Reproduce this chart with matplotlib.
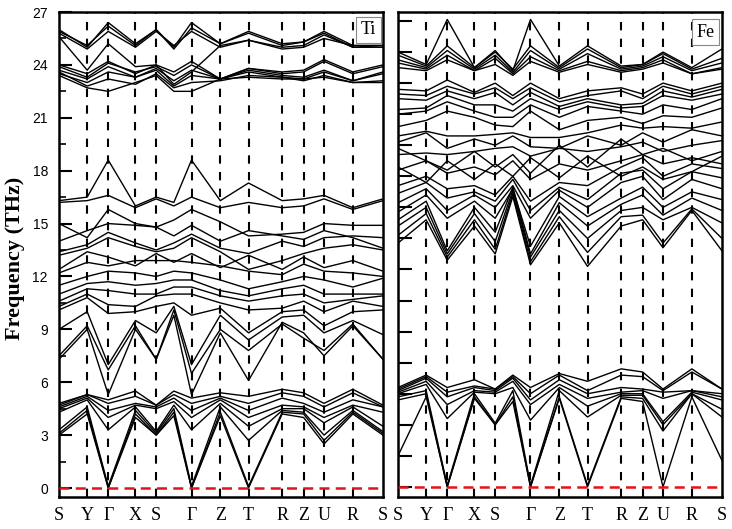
import matplotlib
matplotlib.use('Agg')
import matplotlib.pyplot as plt
from matplotlib.ticker import MultipleLocator

# k-path (high-symmetry points) shared by both panels
k_labels = ['S', 'Y', 'Γ', 'X', 'S', 'Γ', 'Z', 'T', 'R', 'Z', 'U', 'R', 'S']
k_ticks = [0.0, 0.087, 0.152, 0.236, 0.300, 0.409, 0.498, 0.585, 0.689, 0.755, 0.818, 0.907, 1.0]
# sampled points: high-symmetry points + middle of the S-Γ segment
k_points = [0.0, 0.087, 0.152, 0.236, 0.300, 0.3545, 0.409, 0.498, 0.585, 0.689, 0.755, 0.818, 0.907, 1.0]

# ---- Ti panel (THz) ----
ti_low = [
    [3.0, 4.2, 0.0, 4.0, 3.0, 4.1, 0.0, 4.1, 0.0, 4.2, 4.0, 2.5, 4.2, 3.0],
    [3.1, 4.4, 0.0, 4.2, 3.0, 4.3, 0.0, 4.3, 0.1, 4.3, 4.2, 2.7, 4.3, 3.1],
    [3.3, 4.6, 0.1, 4.4, 3.1, 4.5, 0.1, 4.6, 2.7, 4.4, 4.3, 3.0, 4.4, 3.2],
    [4.3, 5.0, 3.3, 4.6, 3.2, 4.7, 3.3, 4.8, 3.5, 4.5, 4.5, 3.7, 4.6, 3.5],
    [4.5, 5.1, 4.0, 4.7, 4.5, 4.9, 4.0, 5.0, 4.0, 4.7, 4.6, 4.0, 4.7, 4.3],
    [4.6, 5.2, 4.4, 4.8, 4.6, 5.1, 4.4, 5.1, 4.4, 5.1, 4.8, 4.3, 5.0, 4.6],
    [4.7, 5.3, 4.8, 5.2, 4.7, 5.3, 4.8, 5.2, 4.8, 5.4, 5.2, 4.6, 5.4, 4.6],
    [4.8, 5.3, 5.0, 5.5, 4.7, 5.5, 5.1, 5.4, 5.2, 5.6, 5.4, 4.8, 5.6, 4.7],
]
ti_mid = [
    [16.3, 16.5, 18.6, 16.0, 16.5, 16.2, 18.6, 16.3, 17.3, 16.3, 16.4, 16.6, 15.9, 16.4],
    [16.2, 16.3, 16.6, 15.9, 16.4, 16.0, 16.5, 15.9, 16.2, 15.9, 16.0, 16.4, 15.8, 16.3],
    [15.0, 14.2, 15.8, 15.0, 14.8, 15.2, 15.8, 15.1, 14.3, 14.4, 14.5, 15.0, 14.9, 14.9],
    [14.0, 14.6, 15.0, 14.9, 14.8, 14.3, 14.9, 14.0, 14.6, 14.3, 14.1, 14.6, 14.2, 13.6],
    [13.4, 13.8, 14.5, 13.9, 13.5, 13.9, 14.4, 13.6, 13.3, 14.0, 13.7, 14.2, 14.3, 14.2],
    [13.2, 13.6, 14.2, 13.7, 13.4, 13.6, 14.2, 13.4, 12.4, 12.9, 13.3, 13.6, 13.8, 13.5],
    [12.4, 13.4, 13.1, 12.6, 13.3, 12.8, 13.3, 12.5, 13.2, 12.4, 13.1, 12.5, 12.9, 12.3],
    [12.2, 12.8, 12.6, 12.9, 12.9, 12.9, 12.8, 12.6, 12.3, 12.1, 12.7, 12.3, 12.2, 12.0],
    [11.5, 12.0, 12.3, 12.2, 12.0, 12.3, 12.2, 11.8, 11.3, 11.7, 12.0, 11.8, 11.4, 11.9],
    [11.0, 11.6, 11.7, 11.5, 11.6, 11.8, 11.8, 11.2, 10.9, 11.3, 11.5, 11.0, 11.0, 11.0],
    [10.6, 11.3, 11.2, 11.0, 11.0, 11.4, 11.4, 10.9, 10.6, 10.9, 11.0, 10.5, 10.7, 10.9],
    [10.3, 11.0, 10.4, 10.3, 10.9, 11.0, 11.0, 10.5, 10.1, 10.2, 10.6, 10.0, 10.6, 10.3],
    [10.1, 10.8, 9.9, 10.0, 10.3, 10.5, 9.8, 10.2, 8.8, 10.0, 10.1, 9.2, 10.0, 10.1],
    [9.0, 10.0, 7.0, 9.5, 8.8, 10.3, 7.0, 9.8, 8.4, 9.7, 9.8, 8.8, 9.5, 8.7],
    [7.5, 9.2, 6.7, 9.2, 7.3, 10.1, 6.5, 9.0, 7.8, 9.3, 8.5, 7.8, 9.3, 7.3],
    [7.3, 9.0, 5.3, 9.0, 7.3, 9.8, 5.3, 8.8, 6.1, 9.4, 8.8, 7.5, 9.2, 7.3],
]
ti_top = [
    [26.0, 25.0, 26.4, 25.2, 26.0, 25.0, 26.4, 25.2, 25.9, 25.2, 25.3, 25.9, 25.1, 25.1],
    [25.9, 25.1, 26.2, 25.1, 26.0, 24.9, 26.1, 25.2, 25.8, 25.1, 25.3, 25.8, 25.0, 25.1],
    [25.8, 24.9, 25.9, 25.0, 25.9, 25.1, 25.9, 25.0, 25.4, 25.0, 25.1, 25.7, 25.0, 25.0],
    [25.6, 23.7, 25.2, 23.9, 24.0, 22.9, 23.6, 25.1, 25.4, 24.9, 25.0, 25.5, 25.1, 25.1],
    [24.0, 23.5, 24.2, 23.5, 24.0, 23.6, 24.2, 23.2, 23.8, 23.6, 23.7, 24.3, 23.6, 24.0],
    [23.9, 23.3, 24.1, 23.6, 23.9, 23.4, 24.0, 23.2, 23.8, 23.5, 23.6, 24.2, 23.5, 23.9],
    [23.7, 23.2, 23.9, 23.3, 23.8, 23.1, 23.7, 23.2, 23.7, 23.4, 23.3, 23.7, 23.1, 23.6],
    [23.5, 23.0, 23.6, 23.3, 23.7, 22.8, 23.4, 23.2, 23.6, 23.3, 23.2, 23.6, 23.1, 23.5],
    [23.6, 22.8, 23.2, 22.9, 23.5, 22.7, 23.0, 23.1, 23.4, 23.3, 23.1, 23.4, 23.0, 23.1],
    [23.4, 22.7, 22.5, 23.0, 23.4, 22.5, 22.5, 23.2, 23.3, 23.2, 23.2, 23.3, 23.0, 23.0],
]

# ---- Fe panel (own axis scale) ----
fe_low = [
    [2.0, 5.8, 0.0, 5.7, 4.0, 5.5, 0.0, 5.7, 0.0, 5.7, 5.5, 0.0, 5.8, 1.7],
    [5.6, 6.0, 0.0, 5.8, 4.0, 5.8, 0.0, 5.8, 0.1, 5.8, 5.7, 3.6, 6.0, 4.5],
    [5.8, 6.2, 0.1, 6.0, 4.1, 6.2, 0.1, 6.2, 4.5, 5.9, 5.9, 4.0, 6.0, 5.0],
    [6.0, 6.6, 4.4, 6.1, 6.0, 6.4, 4.3, 6.4, 5.2, 6.0, 6.0, 4.2, 6.1, 5.6],
    [6.1, 6.8, 5.3, 6.2, 6.1, 6.8, 5.3, 6.6, 5.7, 6.1, 6.2, 5.7, 6.2, 5.8],
    [6.2, 7.0, 5.8, 6.4, 6.2, 7.0, 5.6, 6.9, 6.0, 6.4, 6.3, 6.1, 6.2, 6.0],
    [6.3, 7.1, 6.1, 6.5, 6.3, 7.1, 6.0, 7.2, 6.2, 7.2, 7.1, 6.2, 7.4, 6.3],
    [6.4, 7.2, 6.4, 6.9, 6.3, 7.2, 6.4, 7.3, 6.8, 7.6, 7.4, 6.3, 7.6, 6.3],
]
fe_mid = [
    [15.7, 17.2, 14.6, 16.8, 15.0, 18.7, 14.3, 17.0, 14.2, 16.8, 17.2, 15.4, 17.8, 15.2],
    [16.2, 17.6, 14.8, 17.2, 15.3, 18.9, 14.5, 17.4, 15.1, 17.4, 17.5, 15.7, 17.9, 16.0],
    [16.8, 18.0, 15.0, 17.6, 15.8, 19.1, 14.8, 17.8, 16.0, 17.8, 18.0, 17.2, 18.0, 17.0],
    [17.2, 18.4, 15.2, 18.0, 16.4, 19.3, 15.0, 18.3, 16.8, 18.2, 18.8, 17.5, 18.6, 17.8],
    [17.7, 18.8, 17.3, 18.4, 17.3, 19.2, 15.5, 18.7, 17.4, 18.6, 19.3, 18.0, 19.0, 18.5],
    [18.3, 19.2, 17.8, 18.8, 18.0, 19.4, 17.3, 19.1, 18.0, 19.6, 20.0, 18.5, 19.8, 19.2],
    [18.9, 19.6, 18.6, 19.0, 18.4, 19.8, 17.8, 19.3, 18.5, 20.2, 20.4, 19.2, 20.3, 19.9],
    [19.4, 20.0, 19.2, 19.4, 18.8, 20.0, 18.4, 19.6, 19.4, 20.6, 21.2, 20.0, 20.8, 20.5],
    [20.6, 19.6, 21.0, 19.8, 20.8, 20.0, 21.2, 19.9, 21.3, 20.0, 20.6, 19.8, 20.3, 21.3],
    [20.4, 21.0, 20.2, 20.6, 20.1, 21.0, 19.8, 20.8, 20.4, 21.0, 21.4, 20.8, 21.2, 20.8],
    [21.8, 21.0, 20.4, 21.6, 20.6, 21.4, 20.2, 22.0, 20.6, 22.4, 21.4, 21.8, 21.0, 21.6],
    [21.4, 21.5, 21.4, 21.6, 21.8, 21.9, 21.3, 21.8, 21.6, 21.9, 22.2, 21.6, 22.0, 22.3],
    [22.2, 22.8, 21.8, 22.4, 22.0, 22.6, 21.9, 21.8, 22.6, 22.0, 22.8, 22.2, 23.0, 22.6],
    [22.6, 22.9, 22.6, 22.6, 22.7, 22.8, 22.5, 22.5, 22.8, 23.3, 23.1, 23.2, 23.1, 23.5],
    [23.2, 23.6, 24.2, 23.8, 23.3, 23.2, 24.2, 23.0, 23.6, 23.8, 23.4, 23.9, 23.8, 24.4],
]
fe_top = [
    [24.0, 24.2, 24.8, 24.2, 23.8, 23.8, 24.6, 23.8, 24.5, 24.2, 24.0, 24.6, 24.3, 25.0],
    [24.3, 24.4, 25.2, 24.6, 24.6, 24.2, 25.0, 24.3, 24.8, 24.4, 24.5, 25.2, 24.9, 25.3],
    [25.0, 24.9, 25.5, 25.0, 25.4, 24.6, 25.4, 24.5, 25.0, 24.6, 24.7, 25.5, 25.1, 25.6],
    [25.3, 25.2, 25.8, 25.3, 25.7, 25.0, 25.7, 24.8, 25.2, 25.5, 25.0, 25.8, 25.3, 25.8],
    [25.6, 25.5, 26.2, 25.4, 26.0, 25.2, 26.0, 25.0, 25.5, 25.7, 25.3, 26.0, 25.5, 26.0],
    [28.0, 27.2, 30.1, 27.0, 28.1, 26.8, 30.1, 27.1, 28.4, 27.1, 27.2, 28.0, 27.0, 28.2],
    [27.8, 27.1, 28.4, 27.0, 28.0, 26.9, 28.4, 27.0, 28.2, 27.0, 27.2, 27.9, 26.9, 27.6],
    [27.5, 27.0, 28.1, 26.9, 27.8, 26.7, 28.1, 26.9, 27.9, 26.9, 27.1, 27.7, 26.8, 27.3],
    [27.3, 26.9, 27.8, 26.8, 27.6, 26.6, 27.7, 26.8, 27.4, 26.8, 27.0, 27.5, 26.6, 27.0],
    [27.0, 26.8, 27.5, 26.8, 27.2, 26.5, 27.4, 26.7, 27.2, 26.7, 26.9, 27.3, 26.6, 26.9],
]


def draw_panel(ax, bands, name, box_xy):
    for b in bands:
        ax.plot(k_points, b, color='black', lw=1.0)
    for x in k_ticks[1:-1]:
        ax.axvline(x, color='black', lw=1.5, ls=(0, (4, 4)))
    ax.axhline(0, color='#e0141c', lw=1.8, ls=(0, (4, 2.5)), zorder=3)
    ax.set_xlim(0, 1)
    ax.set_xticks(k_ticks)
    ax.set_xticklabels(k_labels, fontfamily='Liberation Serif', fontsize=13)
    ax.tick_params(axis='x', length=0, pad=7)
    for s in ax.spines.values():
        s.set_linewidth(1.8)
    ax.text(box_xy[0], box_xy[1], name, transform=ax.transAxes, ha='center', va='center',
            fontsize=13, fontfamily='Liberation Serif',
            bbox=dict(boxstyle='square,pad=0.25', fc='white', ec='#888888', lw=0.8))


fig = plt.figure(figsize=(7.32, 5.29), dpi=100)
ax1 = fig.add_axes([0.0806, 0.0605, 0.4426, 0.9168])
ax2 = fig.add_axes([0.5437, 0.0605, 0.4426, 0.9168])

draw_panel(ax1, ti_low + ti_mid + ti_top, 'Ti', (0.955, 0.963))
ax1.set_ylim(-0.51, 27.0)
ax1.yaxis.set_major_locator(MultipleLocator(3))
ax1.yaxis.set_minor_locator(MultipleLocator(1.5))
ax1.tick_params(axis='y', which='major', direction='in', length=9, width=1.5,
                labelsize=10, pad=8)
ax1.tick_params(axis='y', which='minor', direction='in', length=5, width=1.2)
for lab in ax1.get_yticklabels():
    lab.set_fontfamily('Liberation Sans')

draw_panel(ax2, fe_low + fe_mid + fe_top, 'Fe', (0.948, 0.958))
ax2.set_ylim(-0.65, 30.58)
ax2.yaxis.set_major_locator(MultipleLocator(2))
ax2.tick_params(axis='y', which='major', direction='in', length=10, width=1.5, labelleft=False)

fig.text(0.021, 0.512, 'Frequency (THz)', rotation=90, ha='center', va='center',
         fontsize=16, fontweight='bold', fontfamily='Liberation Serif')

fig.savefig('out.png', dpi=100)
